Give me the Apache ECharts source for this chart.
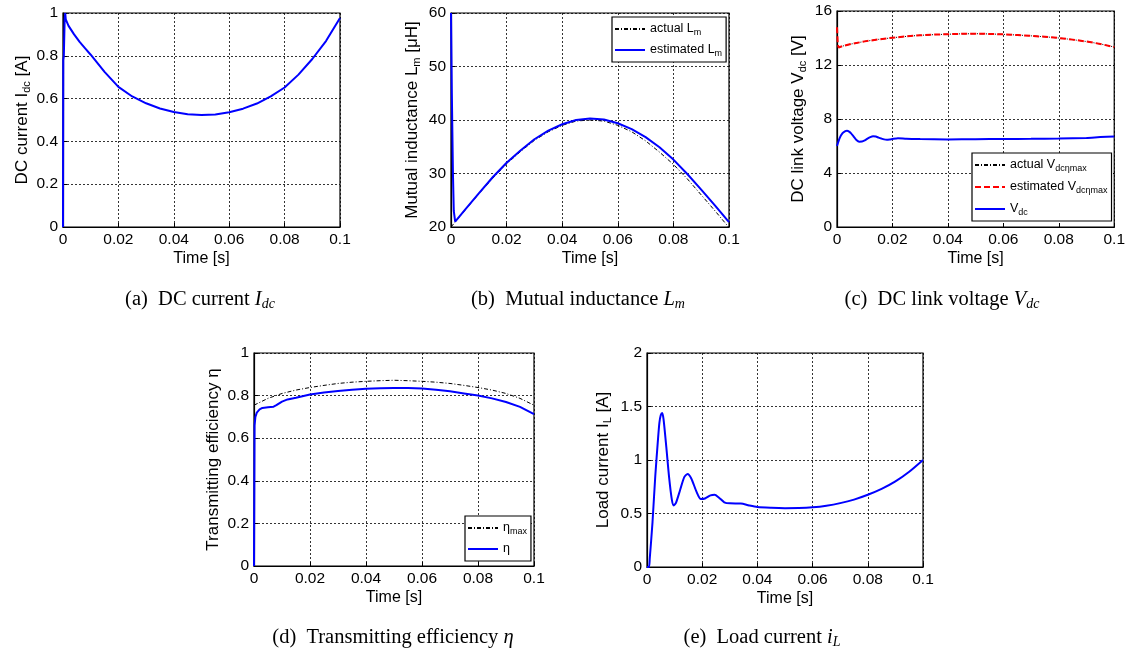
<!DOCTYPE html>
<html><head><meta charset="utf-8">
<script src="https://cdn.jsdelivr.net/npm/echarts@6/dist/echarts.min.js"></script>
<style>html,body{margin:0;padding:0;background:#fff}#c{width:1128px;height:657px}</style>
</head><body><div id="c"></div>
<script>
// ---------- data ----------
// (a) DC current
const tIdc = [0, 0.0001, 0.0003, 0.0006, 0.0008, 0.001, 0.002, 0.004, 0.006, 0.008, 0.01, 0.015, 0.02, 0.025, 0.03, 0.035, 0.04, 0.045, 0.05, 0.055, 0.06, 0.065, 0.07, 0.075, 0.08, 0.085, 0.09, 0.095, 0.1];
const idc  = [0, 0.78, 0.80, 0.97, 1.0, 0.97, 0.94, 0.90, 0.865, 0.835, 0.805, 0.725, 0.655, 0.61, 0.578, 0.554, 0.537, 0.527, 0.523, 0.526, 0.536, 0.553, 0.577, 0.61, 0.652, 0.712, 0.785, 0.87, 0.977];
// (b) Mutual inductance
const tLmAct = [0, 0.005, 0.01, 0.015, 0.02, 0.025, 0.03, 0.035, 0.04, 0.045, 0.05, 0.055, 0.06, 0.065, 0.07, 0.075, 0.08, 0.085, 0.09, 0.095, 0.1];
const lmAct  = [20, 23.1, 26.2, 29.1, 31.8, 34.1, 36.2, 37.8, 39.0, 39.8, 40.0, 39.8, 39.0, 37.8, 36.1, 34.0, 31.7, 29.0, 26.0, 23.0, 19.9];
const tLmEst = [0, 0.0003, 0.0007, 0.001, 0.0015, 0.002, 0.005, 0.01, 0.015, 0.02, 0.025, 0.03, 0.035, 0.04, 0.045, 0.05, 0.055, 0.06, 0.065, 0.07, 0.075, 0.08, 0.085, 0.09, 0.095, 0.1];
const lmEst  = [60, 45, 30, 23, 21, 21.3, 23.2, 26.3, 29.3, 32.0, 34.3, 36.4, 38.0, 39.2, 40.0, 40.3, 40.1, 39.4, 38.3, 36.8, 34.9, 32.6, 29.9, 27.0, 24.0, 20.9];
// (c) DC link voltage
const tV   = [0, 0.0003, 0.0006, 0.002, 0.005, 0.01, 0.015, 0.02, 0.025, 0.03, 0.035, 0.04, 0.045, 0.05, 0.055, 0.06, 0.065, 0.07, 0.075, 0.08, 0.085, 0.09, 0.095, 0.1];
const vAct = [13.3, 13.32, 13.34, 13.4, 13.55, 13.75, 13.9, 14.02, 14.12, 14.2, 14.25, 14.28, 14.31, 14.32, 14.3, 14.27, 14.22, 14.16, 14.09, 14.0, 13.88, 13.74, 13.56, 13.33];
const vEst = [14.8, 13.5, 13.3, 13.4, 13.55, 13.75, 13.9, 14.02, 14.12, 14.2, 14.25, 14.28, 14.31, 14.32, 14.3, 14.27, 14.22, 14.16, 14.09, 14.0, 13.88, 13.74, 13.56, 13.33];
const tVdc = [0, 0.001, 0.002, 0.003, 0.0036, 0.0045, 0.005, 0.006, 0.007, 0.008, 0.009, 0.01, 0.011, 0.012, 0.013, 0.014, 0.015, 0.016, 0.017, 0.018, 0.019, 0.02, 0.022, 0.025, 0.03, 0.04, 0.05, 0.06, 0.07, 0.08, 0.09, 0.095, 0.1];
const vdc  = [6.0, 6.6, 6.95, 7.1, 7.13, 7.05, 6.95, 6.7, 6.45, 6.32, 6.33, 6.42, 6.55, 6.66, 6.72, 6.7, 6.62, 6.55, 6.49, 6.47, 6.49, 6.52, 6.57, 6.53, 6.51, 6.49, 6.5, 6.52, 6.53, 6.55, 6.6, 6.66, 6.7];
// (d) Transmitting efficiency
const tEta = [0, 0.0002, 0.0005, 0.001, 0.002, 0.003, 0.005, 0.007, 0.008, 0.01, 0.012, 0.015, 0.02, 0.025, 0.03, 0.035, 0.04, 0.045, 0.05, 0.055, 0.06, 0.065, 0.07, 0.075, 0.08, 0.085, 0.09, 0.095, 0.1];
const eta  = [0, 0.66, 0.70, 0.72, 0.735, 0.742, 0.745, 0.748, 0.755, 0.772, 0.782, 0.79, 0.805, 0.815, 0.822, 0.828, 0.832, 0.835, 0.836, 0.836, 0.833, 0.828, 0.82, 0.81, 0.80, 0.787, 0.77, 0.747, 0.713];
const tEtaMax = [0, 0.005, 0.01, 0.015, 0.02, 0.025, 0.03, 0.035, 0.04, 0.045, 0.05, 0.055, 0.06, 0.065, 0.07, 0.075, 0.08, 0.085, 0.09, 0.095, 0.1];
const etaMax  = [0.755, 0.787, 0.81, 0.826, 0.838, 0.848, 0.857, 0.863, 0.867, 0.87, 0.872, 0.87, 0.867, 0.863, 0.857, 0.848, 0.838, 0.826, 0.81, 0.787, 0.755];
// (e) Load current
const tIL = [0, 0.0007, 0.001, 0.002, 0.003, 0.004, 0.0045, 0.005, 0.0055, 0.006, 0.007, 0.008, 0.009, 0.0097, 0.0105, 0.012, 0.0135, 0.0147, 0.016, 0.018, 0.0195, 0.021, 0.023, 0.0245, 0.026, 0.028, 0.03, 0.034, 0.037, 0.04, 0.045, 0.05, 0.055, 0.06, 0.065, 0.07, 0.075, 0.08, 0.085, 0.09, 0.095, 0.1];
const iL  = [0, 0, 0.08, 0.42, 0.85, 1.2, 1.35, 1.42, 1.44, 1.38, 1.12, 0.84, 0.63, 0.575, 0.6, 0.72, 0.84, 0.87, 0.83, 0.7, 0.635, 0.64, 0.67, 0.675, 0.65, 0.605, 0.595, 0.594, 0.575, 0.56, 0.553, 0.55, 0.551, 0.558, 0.573, 0.597, 0.63, 0.675, 0.73, 0.8, 0.89, 1.0];

// ticks
const xTicks = {min: 0, max: 0.1, interval: 0.02};
const yTicksA = {min: 0, max: 1, interval: 0.2};
const yTicksB = {min: 20, max: 60, interval: 10};
const yTicksC = {min: 0, max: 16, interval: 4};
const yTicksD = {min: 0, max: 1, interval: 0.2};
const yTicksE = {min: 0, max: 2, interval: 0.5};

// ---------- chart ----------
const SANS = 'Liberation Sans, Arial, sans-serif';
const SERIF = 'Liberation Serif, Times New Roman, serif';
const BLUE = '#0000ff', RED = '#ff0000', BLACK = '#000';
const zip = (t, v) => t.map((x, i) => [x, v[i]]);

const grids = [
  {left: 63, top: 13, width: 277, height: 214},
  {left: 451, top: 13, width: 278, height: 214},
  {left: 837, top: 11, width: 280, height: 216},
  {left: 254, top: 353, width: 280, height: 213},
  {left: 647, top: 353, width: 276, height: 214}
].map(g => Object.assign(g, {show: true, borderColor: BLACK, borderWidth: 1.2, backgroundColor: '#fff', containLabel: false}));

const splitLine = {show: true, lineStyle: {color: BLACK, type: [2, 2], width: 0.8}};
const axisLine = {show: true, onZero: false, lineStyle: {color: BLACK, width: 1.2}};
const axisTick = {show: true, inside: true, length: 4, lineStyle: {color: BLACK}};
const fmt = v => String(+(+v).toFixed(3));

const xAxes = grids.map((g, i) => Object.assign({
  type: 'value', gridIndex: i,
  name: 'Time [s]', nameLocation: 'middle', nameGap: 24,
  nameTextStyle: {fontSize: 16, color: BLACK, fontFamily: SANS},
  axisLine, axisTick, splitLine,
  axisLabel: {color: BLACK, fontSize: 15.5, fontFamily: SANS, margin: 5, formatter: fmt}
}, xTicks));

const yNames = [
  ['DC current I{sub|dc} [A]', 30, yTicksA],
  ['Mutual inductance L{sub|m} [μH]', 29, yTicksB],
  ['DC link voltage V{sub|dc} [V]', 29, yTicksC],
  ['Transmitting efficiency η', 26, yTicksD],
  ['Load current I{sub|L} [A]', 34, yTicksE]
];
const yAxes = yNames.map((n, i) => Object.assign({
  type: 'value', gridIndex: i,
  name: n[0], nameLocation: 'middle', nameGap: n[1], nameRotate: 90,
  nameTextStyle: {fontSize: 17, color: BLACK, fontFamily: SANS, lineHeight: 20,
    rich: {sub: {fontSize: 11, fontFamily: SANS, color: BLACK, lineHeight: 10, verticalAlign: 'bottom'}}},
  axisLine, axisTick, splitLine,
  axisLabel: {color: BLACK, fontSize: 15.5, fontFamily: SANS, margin: 5, formatter: fmt}
}, n[2]));

function line(name, xi, data, color, width, type, z) {
  return {name, type: 'line', xAxisIndex: xi, yAxisIndex: xi, data, symbol: 'none',
    lineStyle: {color, width, type}, itemStyle: {color}, z: z || 2, animation: false, silent: true};
}

const series = [
  line('Idc', 0, zip(tIdc, idc), BLUE, 2, 'solid', 3),
  line('actual Lm', 1, zip(tLmAct, lmAct), BLACK, 1, [4, 2, 1, 2], 2),
  line('estimated Lm', 1, zip(tLmEst, lmEst), BLUE, 2, 'solid', 3),
  line('actual Vdcmax', 2, zip(tV, vAct), BLACK, 1, [4, 2, 1, 2], 2),
  line('estimated Vdcmax', 2, zip(tV, vEst), RED, 2, [6, 3], 3),
  Object.assign(line('Vdc', 2, zip(tVdc, vdc), BLUE, 2, 'solid', 3), {smooth: 0.2}),
  line('eta_max', 3, zip(tEtaMax, etaMax), BLACK, 1, [4, 2, 1, 2], 2),
  line('eta', 3, zip(tEta, eta), BLUE, 2, 'solid', 3),
  Object.assign(line('IL', 4, zip(tIL, iL), BLUE, 2, 'solid', 3), {smooth: 0.25})
];

const legendLabels = {
  'actual Lm': 'actual L{sub|m}',
  'estimated Lm': 'estimated L{sub|m}',
  'actual Vdcmax': 'actual V{sub|dcηmax}',
  'estimated Vdcmax': 'estimated V{sub|dcηmax}',
  'Vdc': 'V{sub|dc}',
  'eta_max': 'η{sub|max}',
  'eta': 'η'
};
function legend(data, left, top, gap) {
  return {
    data, left, top, orient: 'vertical', itemWidth: 30, itemHeight: 12, itemGap: gap,
    padding: [4, 4, 4, 2], borderColor: BLACK, borderWidth: 1.2, backgroundColor: '#fff',
    selectedMode: false, z: 10,
    itemStyle: {opacity: 0, borderWidth: 0},
    formatter: n => legendLabels[n],
    textStyle: {fontSize: 12.5, fontFamily: SANS, color: BLACK, lineHeight: 16,
      rich: {sub: {fontSize: 9, fontFamily: SANS, color: BLACK, lineHeight: 8, verticalAlign: 'bottom'}}}
  };
}

const capRich = {
  n: {fontFamily: SERIF, fontSize: 20.5, color: BLACK},
  it: {fontFamily: SERIF, fontSize: 20.5, fontStyle: 'italic', color: BLACK},
  s: {fontFamily: SERIF, fontSize: 14, fontStyle: 'italic', color: BLACK, lineHeight: 12, verticalAlign: 'bottom'}
};
function cap(text, cx, cy) {
  return {type: 'text', x: cx, y: cy, silent: true,
    style: {text, align: 'center', verticalAlign: 'middle', fontFamily: SERIF, fontSize: 20.5, fill: BLACK, lineHeight: 22, rich: capRich}};
}

const option = {
  backgroundColor: '#fff',
  animation: false,
  graphic: [
    cap('{n|(a)  DC current }{it|I}{s|dc}', 200, 300),
    cap('{n|(b)  Mutual inductance }{it|L}{s|m}', 578, 300),
    cap('{n|(c)  DC link voltage }{it|V}{s|dc}', 942, 300),
    cap('{n|(d)  Transmitting efficiency }{it|η}', 393, 638),
    cap('{n|(e)  Load current }{it|i}{s|L}', 762, 638)
  ],
  legend: [
    legend(['actual Lm', 'estimated Lm'], 612, 17, 5),
    legend(['actual Vdcmax', 'estimated Vdcmax', 'Vdc'], 972, 153, 6),
    legend(['eta_max', 'eta'], 465, 516, 5)
  ],
  grid: grids,
  xAxis: xAxes,
  yAxis: yAxes,
  series
};
const chart = echarts.init(document.getElementById('c'), null, {renderer: 'canvas'});
chart.setOption(option);
</script></body></html>
